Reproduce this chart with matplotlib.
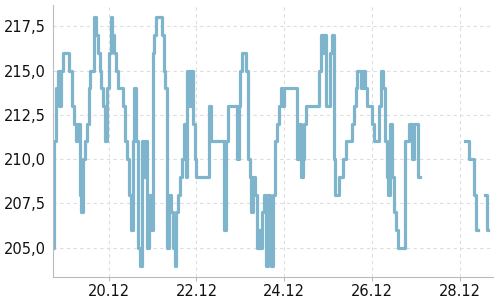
import numpy as np
import pandas as pd
import matplotlib
matplotlib.use("Agg")
import matplotlib.pyplot as plt
import matplotlib.dates as mdates
from matplotlib.ticker import MultipleLocator, FuncFormatter

nan = np.nan

# hourly readings starting Dec 18, 17:30
start = "2023-12-18 17:30"
values = [
    205, 211, 214, 215, 213, 215, 216, 216, 216, 215,
    215, 213, 212, 211, 212, 208, 207, 210, 211, 212,
    214, 215, 215, 218, 217, 216, 215, 214, 213, 211,
    214, 216, 218, 217, 216, 215, 214, 214, 214, 213,
    211, 210, 208, 206, 211, 214, 211, 205, 204, 211,
    209, 211, 205, 208, 206, 216, 217, 218, 218, 218,
    217, 215, 214, 205, 208, 207, 205, 204, 207, 208,
    209, 210, 212, 209, 215, 213, 215, 212, 210, 209,
    209, 209, 209, 209, 209, 209, 213, 211, 211, 211,
    211, 211, 211, 211, 206, 211, 213, 213, 213, 213,
    213, 210, 213, 215, 216, 216, 215, 210, 209, 207,
    209, 208, 205, 206, 205, 207, 208, 204, 208, 206,
    204, 208, 211, 212, 213, 214, 213, 214, 214, 214,
    214, 214, 214, 214, 210, 212, 209, 210, 212, 213,
    213, 213, 213, 213, 213, 213, 215, 217, 216, 217,
    213, 213, 216, 217, 210, 208, 208, 209, 209, 210,
    210, 211, 211, 211, 212, 213, 214, 215, 215, 214,
    215, 214, 213, 213, 213, 212, 211, 211, 211, 213,
    215, 214, 211, 209, 208, 212, 209, 207, 206, 205,
    205, 205, 205, 211, 211, 212, 212, 210, 212, 212,
    209, nan, nan, nan, nan, nan, nan, nan, nan, nan,
    nan, nan, nan, nan, nan, nan, nan, nan, nan, nan,
    nan, nan, nan, nan, nan, nan, 211, 211, 210, 210,
    210, 208, 206, nan, nan, nan, nan, 208, 206,
]

times = pd.date_range(start, periods=len(values), freq="h")

fig = plt.figure(figsize=(5, 3), dpi=100)
ax = fig.add_axes([0.106, 0.077, 0.880, 0.906])

ax.plot(times, values, color="#7eb4cc", linewidth=2.3, drawstyle="steps-mid")

ax.set_xlim(pd.Timestamp(start), pd.Timestamp(start) + pd.Timedelta(hours=240.7))
ax.set_ylim(203.36, 218.69)

ax.yaxis.set_major_locator(MultipleLocator(2.5))
ax.yaxis.set_major_formatter(FuncFormatter(lambda v, p: f"{v:.1f}".replace(".", ",")))
ax.xaxis.set_major_locator(mdates.DayLocator(bymonthday=[20, 22, 24, 26, 28]))
ax.xaxis.set_major_formatter(mdates.DateFormatter("%d.%m"))

ax.grid(True, color="#dddddd", linestyle=(0, (3, 3)), linewidth=0.8)
ax.set_axisbelow(True)

for s in ["top", "right"]:
    ax.spines[s].set_visible(False)
for s in ["left", "bottom"]:
    ax.spines[s].set_color("#bbbbbb")

ax.tick_params(axis="y", length=0, pad=5, labelsize=10.5, labelcolor="#111111")
ax.tick_params(axis="x", length=3, color="#bbbbbb", pad=2, labelsize=10.5, labelcolor="#111111")

fig.savefig("out.png", dpi=100)
